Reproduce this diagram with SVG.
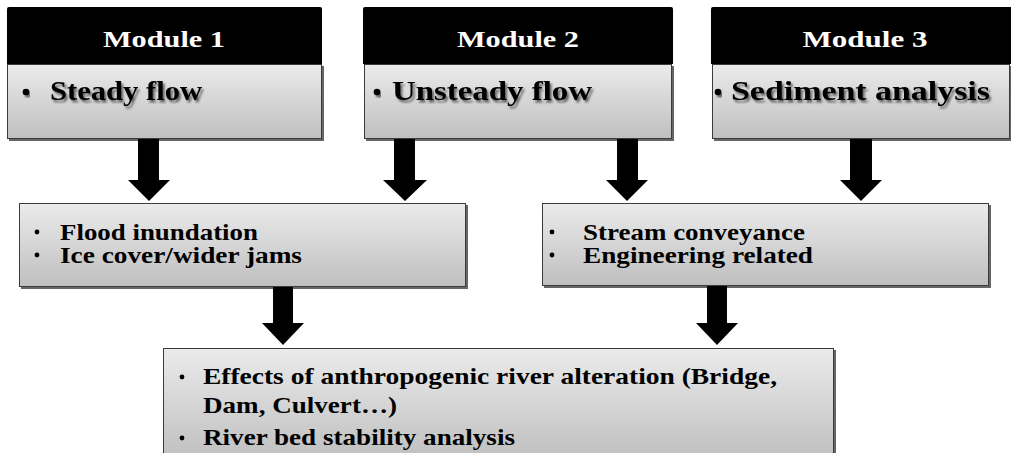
<svg xmlns="http://www.w3.org/2000/svg" width="1011" height="453" viewBox="0 0 1011 453">
  <defs>
    <linearGradient id="greyFill" x1="0" y1="0" x2="0" y2="1">
      <stop offset="0" stop-color="#ebebeb"/>
      <stop offset="1" stop-color="#bfbfbf"/>
    </linearGradient>
    <filter id="textShadow" x="-5%" y="-30%" width="115%" height="170%">
      <feDropShadow dx="2" dy="2.5" stdDeviation="1.3" flood-color="#000" flood-opacity="0.55"/>
    </filter>
    <filter id="boxShadow" x="-2%" y="-5%" width="105%" height="112%">
      <feDropShadow dx="2" dy="2" stdDeviation="0.6" flood-color="#000" flood-opacity="0.6"/>
    </filter>
  </defs>
  <style>
    text { font-family: "Liberation Serif", "Times New Roman", serif; font-weight: bold; }
    .hdr { fill: #000; }
    .hdrText { fill: #fff; font-size: 24px; text-anchor: middle; }
    .panel { fill: url(#greyFill); stroke: #3a3a3a; stroke-width: 1; filter: url(#boxShadow); }
    .modText { fill: #000; font-size: 28px; filter: url(#textShadow); }
    .item { fill: #000; font-size: 23px; }
    .bullet { fill: #000; }
    .arrow { fill: #000; }
  </style>

  <rect width="1011" height="453" fill="#fff"/>

  <!-- module 1 -->
  <g id="module1">
    <path class="hdr" d="M7,64 V9 Q7,7 9,7 H320 Q322,7 322,9 V64 Z"/>
    <text class="hdrText" x="164" y="47" textLength="122" lengthAdjust="spacingAndGlyphs">Module 1</text>
    <rect class="panel" x="7.5" y="64.5" width="314" height="74"/>
    <circle class="bullet" cx="26" cy="92" r="3.3" filter="url(#textShadow)"/>
    <text class="modText" x="50" y="100" textLength="152" lengthAdjust="spacingAndGlyphs">Steady flow</text>
  </g>

  <!-- module 2 -->
  <g id="module2">
    <path class="hdr" d="M363,64 V9 Q363,7 365,7 H671 Q673,7 673,9 V64 Z"/>
    <text class="hdrText" x="518" y="47" textLength="122" lengthAdjust="spacingAndGlyphs">Module 2</text>
    <rect class="panel" x="364.5" y="64.5" width="307" height="74"/>
    <circle class="bullet" cx="377" cy="92" r="3.3" filter="url(#textShadow)"/>
    <text class="modText" x="392" y="100" textLength="200" lengthAdjust="spacingAndGlyphs">Unsteady flow</text>
  </g>

  <!-- module 3 -->
  <g id="module3">
    <path class="hdr" d="M711,64 V9 Q711,7 713,7 H1011 V64 Z"/>
    <text class="hdrText" x="865" y="47" textLength="125" lengthAdjust="spacingAndGlyphs">Module 3</text>
    <rect class="panel" x="712.5" y="64.5" width="297" height="74"/>
    <circle class="bullet" cx="718" cy="92" r="3.3" filter="url(#textShadow)"/>
    <text class="modText" x="731" y="100" textLength="259" lengthAdjust="spacingAndGlyphs">Sediment analysis</text>
  </g>

  <!-- hydraulics outcomes -->
  <g id="outcomesFlow">
    <rect class="panel" x="19.5" y="203.5" width="446" height="83"/>
    <circle class="bullet" cx="37" cy="232" r="2.4"/>
    <text class="item" x="60" y="240" textLength="198" lengthAdjust="spacingAndGlyphs">Flood inundation</text>
    <circle class="bullet" cx="37" cy="255" r="2.4"/>
    <text class="item" x="60" y="263" textLength="242" lengthAdjust="spacingAndGlyphs">Ice cover/wider jams</text>
  </g>

  <!-- sediment outcomes -->
  <g id="outcomesSediment">
    <rect class="panel" x="542.5" y="203.5" width="446" height="82"/>
    <circle class="bullet" cx="552" cy="232" r="2.4"/>
    <text class="item" x="583" y="240" textLength="222" lengthAdjust="spacingAndGlyphs">Stream conveyance</text>
    <circle class="bullet" cx="552" cy="255" r="2.4"/>
    <text class="item" x="583" y="263" textLength="230" lengthAdjust="spacingAndGlyphs">Engineering related</text>
  </g>

  <!-- combined applications -->
  <g id="applications">
    <rect class="panel" x="163.5" y="348.5" width="670" height="112"/>
    <circle class="bullet" cx="182" cy="377" r="2.4"/>
    <text class="item" x="203" y="384" textLength="574" lengthAdjust="spacingAndGlyphs">Effects of anthropogenic river alteration (Bridge,</text>
    <text class="item" x="203" y="413" textLength="194" lengthAdjust="spacingAndGlyphs">Dam, Culvert…)</text>
    <circle class="bullet" cx="182" cy="438" r="2.4"/>
    <text class="item" x="203" y="445" textLength="312" lengthAdjust="spacingAndGlyphs">River bed stability analysis</text>
  </g>

  <!-- block arrows -->
  <g id="connectors">
    <polygon class="arrow" points="138,139 159,139 159,180 170,180 149,201 128,180 138,180"/>
    <polygon class="arrow" points="394,139 415,139 415,180 427,180 405,201 383,180 394,180"/>
    <polygon class="arrow" points="617,139 638,139 638,180 648,180 627,201 606,180 617,180"/>
    <polygon class="arrow" points="850,139 872,139 872,180 882,180 861,201 840,180 850,180"/>
    <polygon class="arrow" points="273,287 293,287 293,323 304,323 283,345 262,323 273,323"/>
    <polygon class="arrow" points="707,286 727,286 727,323 738,323 717,345 696,323 707,323"/>
  </g>
</svg>
